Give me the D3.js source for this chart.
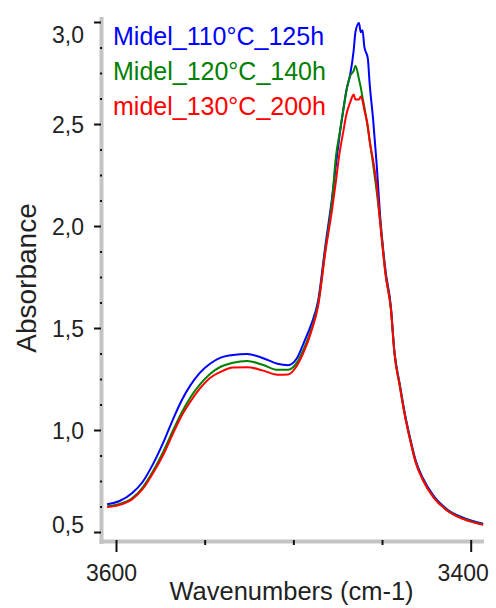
<!DOCTYPE html>
<html>
<head>
<meta charset="utf-8">
<script src="https://cdn.jsdelivr.net/npm/d3@7"></script>
<style>
  html, body { margin: 0; padding: 0; background: #fff; }
  svg { display: block; }
  text { font-family: "Liberation Sans", Arial, sans-serif; }
</style>
</head>
<body>
<svg id="chart" width="496" height="608"></svg>
<script>
// ---- data ----
const wavenumbers = [3605, 3598, 3591, 3585, 3579, 3573, 3568, 3563, 3558, 3553, 3547, 3541, 3534, 3526, 3517, 3509, 3503, 3498, 3494, 3490, 3486, 3482, 3478, 3476, 3474, 3472, 3470, 3468, 3466, 3465, 3463, 3462, 3461, 3460, 3458, 3457, 3455, 3453, 3451, 3448, 3445, 3443, 3440, 3437, 3434, 3431, 3427, 3421, 3413, 3404, 3393];
const blueValues = [0.636, 0.652, 0.69, 0.745, 0.835, 0.945, 1.05, 1.145, 1.22, 1.278, 1.325, 1.355, 1.368, 1.372, 1.352, 1.325, 1.318, 1.352, 1.43, 1.515, 1.635, 1.9, 2.15, 2.3, 2.44, 2.56, 2.67, 2.74, 2.86, 2.95, 2.995, 2.95, 2.96, 2.88, 2.82, 2.70, 2.52, 2.30, 2.04, 1.78, 1.605, 1.385, 1.225, 1.075, 0.955, 0.85, 0.765, 0.678, 0.609, 0.569, 0.540];
const greenValues = [0.625, 0.637, 0.665, 0.718, 0.80, 0.9, 0.995, 1.085, 1.16, 1.22, 1.275, 1.31, 1.33, 1.338, 1.319, 1.295, 1.295, 1.33, 1.40, 1.49, 1.62, 1.88, 2.14, 2.34, 2.45, 2.56, 2.665, 2.735, 2.76, 2.785, 2.72, 2.68, 2.63, 2.585, 2.48, 2.42, 2.30, 2.17, 2.02, 1.765, 1.595, 1.378, 1.218, 1.068, 0.948, 0.843, 0.758, 0.672, 0.605, 0.565, 0.537];
const redValues = [0.622, 0.633, 0.66, 0.71, 0.79, 0.885, 0.98, 1.07, 1.14, 1.2, 1.255, 1.285, 1.306, 1.308, 1.291, 1.271, 1.272, 1.315, 1.385, 1.48, 1.61, 1.87, 2.09, 2.22, 2.355, 2.455, 2.55, 2.605, 2.645, 2.62, 2.62, 2.635, 2.615, 2.57, 2.49, 2.42, 2.32, 2.2, 2.01, 1.76, 1.59, 1.375, 1.215, 1.065, 0.945, 0.84, 0.755, 0.67, 0.603, 0.563, 0.535];
const seriesNames = ["Midel_110°C_125h", "Midel_120°C_140h", "midel_130°C_200h"];
const seriesColors = ["#0000ff", "#008000", "#ff0000"];
const yTickValues = [0.5, 1.0, 1.5, 2.0, 2.5, 3.0];
const xTickValues = [3600, 3400];
const xMinorValues = [3550, 3500, 3450];
const xLabel = "Wavenumbers (cm-1)";
const yLabel = "Absorbance";

// ---- chart ----
const svg = d3.select("#chart");
const x = d3.scaleLinear().domain([3600, 3400]).range([116, 470.7]);
const y = d3.scaleLinear().domain([0.5, 3.0]).range([532, 22]);
const axisX = 101, axisY = 541;

// gray axis frame lines
svg.append("line").attr("x1", 101.5).attr("x2", 101.5).attr("y1", 17).attr("y2", 544)
  .attr("stroke", "#c4c4c4").attr("stroke-width", 4);
svg.append("line").attr("x1", 99.5).attr("x2", 484).attr("y1", 541.5).attr("y2", 541.5)
  .attr("stroke", "#c4c4c4").attr("stroke-width", 4);

// y minor ticks
const yMinor = d3.range(0.5, 3.0001, 0.125).filter(v => !yTickValues.some(t => Math.abs(t - v) < 1e-6));
const gyMinor = svg.append("g").attr("transform", `translate(${axisX},0)`)
  .call(d3.axisLeft(y).tickValues(yMinor).tickSize(2).tickFormat(""));
gyMinor.select(".domain").remove();
gyMinor.selectAll("line").attr("stroke", "#111").attr("stroke-width", 2.2).attr("transform", "translate(1,0)");

// y major ticks
const gy = svg.append("g").attr("transform", `translate(${axisX},0)`)
  .call(d3.axisLeft(y).tickValues(yTickValues).tickSize(7).tickPadding(10)
    .tickFormat(d => d.toFixed(1).replace(".", ",")));
gy.select(".domain").remove();
gy.selectAll("line").attr("stroke", "#111").attr("stroke-width", 2);
gy.selectAll("text").attr("font-size", 23).attr("fill", "#222")
  .attr("font-family", "'Liberation Sans', Arial, sans-serif")
  .attr("dy", d => d === 3.0 ? "0.88em" : (d === 0.5 ? "0.0em" : "0.35em"));

// x minor ticks
const gxMinor = svg.append("g").attr("transform", `translate(0,${axisY - 1})`)
  .call(d3.axisBottom(x).tickValues(xMinorValues).tickSize(5).tickFormat(""));
gxMinor.select(".domain").remove();
gxMinor.selectAll("line").attr("stroke", "#111").attr("stroke-width", 2);

// x major ticks
const gx = svg.append("g").attr("transform", `translate(0,${axisY - 1})`)
  .call(d3.axisBottom(x).tickValues(xTickValues).tickSize(12).tickPadding(13).tickFormat(d3.format("d")));
gx.select(".domain").remove();
gx.selectAll("line").attr("stroke", "#111").attr("stroke-width", 2);
gx.selectAll("text").attr("font-size", 23).attr("fill", "#222")
  .attr("font-family", "'Liberation Sans', Arial, sans-serif")
  .attr("dx", d => d === 3400 ? -8 : -5);

// axis titles
svg.append("text").attr("x", 291.5).attr("y", 600).attr("text-anchor", "middle")
  .attr("font-size", 25.5).attr("fill", "#222").text(xLabel);
svg.append("text").attr("transform", "translate(36,278) rotate(-90)").attr("text-anchor", "middle")
  .attr("font-size", 28).attr("fill", "#222").text(yLabel);

// series
const allSeries = [blueValues, greenValues, redValues];
const line = d3.line().x((d, i) => x(wavenumbers[i])).y(d => y(d)).curve(d3.curveMonotoneX);
allSeries.forEach((vals, k) => {
  svg.append("path").datum(vals).attr("d", line)
    .attr("fill", "none").attr("stroke", seriesColors[k]).attr("stroke-width", 2)
    .attr("stroke-linejoin", "round");
});

// legend
seriesNames.forEach((name, k) => {
  svg.append("text").attr("x", 113).attr("y", 45 + k * 35)
    .attr("font-size", 25).attr("fill", seriesColors[k]).text(name);
});
</script>
</body>
</html>
